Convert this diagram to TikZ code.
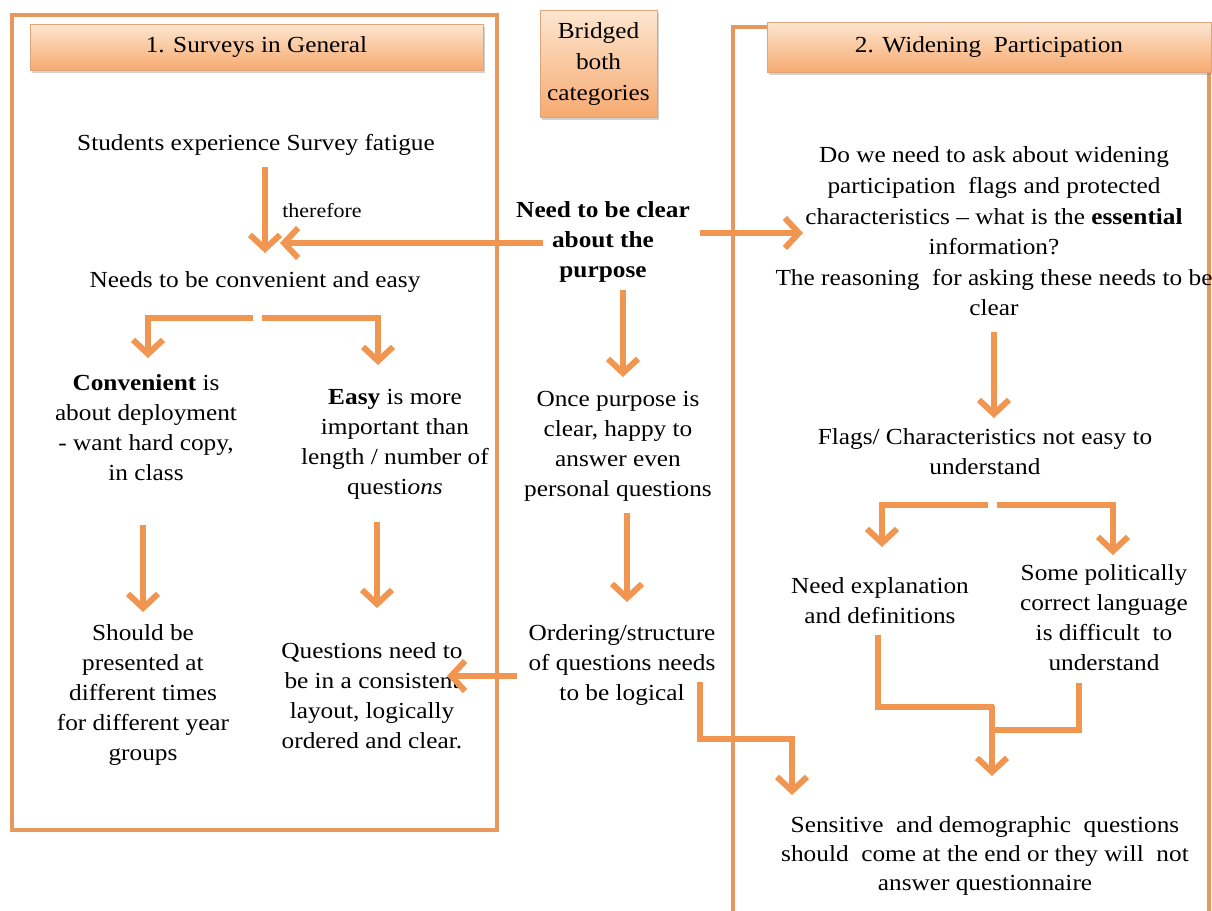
\documentclass[tikz,border=0pt]{standalone}
\usepackage{fontspec}
\setmainfont{Liberation Serif}[FakeStretch=1.1]
\usetikzlibrary{arrows.meta,shadows,calc}
\definecolor{arr}{RGB}{240,150,80}
\definecolor{boxc}{RGB}{230,152,95}
\definecolor{htop}{RGB}{253,230,208}
\definecolor{hbot}{RGB}{246,170,112}
\definecolor{hline}{RGB}{222,165,122}
\tikzset{
  txt/.style={align=center, font=\fontsize{11.5}{15}\selectfont, inner sep=0pt},
  boldtxt/.style={align=center, font=\fontsize{11.5}{15}\selectfont\bfseries, inner sep=0pt},
  smalltxt/.style={align=center, font=\fontsize{10}{12}\selectfont, inner sep=0pt},
  hdr/.style={draw=hline, line width=0.5pt, top color=htop, bottom color=hbot,
    drop shadow={shadow xshift=1pt,shadow yshift=-1.5pt,opacity=0.35},
    align=center, font=\fontsize{11.5}{15.5}\selectfont, inner sep=0pt},
  frame/.style={draw=boxc, line width=2pt},
  flow/.style={draw=arr, line width=3pt, -{Straight Barb[length=7pt,width=15pt]}},
  bar/.style={draw=arr, line width=3pt},
}
\begin{document}
\begin{tikzpicture}[x=0.5pt,y=-0.5pt]
\useasboundingbox (0,0) rectangle (1212,911);
\fill[white] (0,0) rectangle (1212,911);

% frames
\draw[frame] (12,15) rectangle (497,830);
\draw[frame] (1209,915) -- (1209,27) -- (733,27) -- (733,915);

% headers
\node[hdr, minimum width=226.5pt, minimum height=23pt] (h1) at (256.5,47) {1. Surveys in General};
\node[hdr, minimum width=58.5pt, minimum height=53.5pt] (br) at (598.5,63.5) {Bridged\\both\\categories};
\node[hdr, minimum width=222pt, minimum height=25pt] (h2) at (989,47) {2. Widening\ \ Participation};

% left column
\node[txt] (fat) at (256,145) {Students experience Survey fatigue};
\node[smalltxt] (ther) at (322,211) {therefore};
\node[txt] (needs) at (255,282) {Needs to be convenient and easy};
\node[txt] (conv) at (146,428) {\textbf{Convenient} is\\about deployment\\- want hard copy,\\in class};
\node[txt] (easy) at (395,444) {\textbf{Easy} is more\\important than\\length / number of\\questi\textit{ons}};
\node[txt] (should) at (143,695) {Should be\\presented at\\different times\\for different year\\groups};
\node[txt] (quest) at (372,696) {Questions need to\\be in a consistent\\layout, logically\\ordered and clear.};

% middle column
\node[boldtxt] (clear) at (603,242) {Need to be clear\\about the\\purpose};
\node[txt] (once) at (618,446) {Once purpose is\\clear, happy to\\answer even\\personal questions};
\node[txt] (order) at (622,665) {Ordering/structure\\of questions needs\\to be logical};

% right column
\node[txt, font=\fontsize{11.5}{15.3}\selectfont] (dowe) at (994,231.5) {Do we need to ask about widening\\participation\ \ flags and protected\\characteristics -- what is the \textbf{essential}\\information?\\The reasoning\ \ for asking these needs to be\\clear};
\node[txt] (flags) at (985,452) {Flags/ Characteristics not easy to\\understand};
\node[txt] (expl) at (880,601) {Need explanation\\and definitions};
\node[txt] (polit) at (1104,618) {Some politically\\correct language\\is difficult\ \ to\\understand};
\node[txt, font=\fontsize{11.5}{14.5}\selectfont] (sens) at (985,856) {Sensitive\ \ and demographic\ \ questions\\should\ \ come at the end or they will\ \ not\\answer questionnaire};

% coordinates for connector ends
\coordinate (fatS) at (265,167);
\coordinate (needsN) at (265,253);
\coordinate (clearW) at (543,243);
\coordinate (needsE) at (280,243);
\coordinate (clearE) at (700,233);
\coordinate (doweW) at (803,233);
\coordinate (needsS1) at (253,318);
\coordinate (needsS2) at (262,318);
\coordinate (convN) at (148,358);
\coordinate (easyN) at (378,365);
\coordinate (convS) at (143,525);
\coordinate (shouldN) at (143,612);
\coordinate (easyS) at (377,522);
\coordinate (questN) at (377,608);
\coordinate (orderW) at (517,676);
\coordinate (questE) at (447,676);
\coordinate (clearS) at (623,290);
\coordinate (onceN) at (623,377);
\coordinate (onceS) at (627,513);
\coordinate (orderN) at (627,602);
\coordinate (orderE) at (700,682);
\coordinate (sensN1) at (792,795);
\coordinate (doweS) at (994,332);
\coordinate (flagsN) at (994,418);
\coordinate (flagsS1) at (988,505);
\coordinate (flagsS2) at (997,505);
\coordinate (explN) at (882,547);
\coordinate (politN) at (1113,555);
\coordinate (explS) at (878,635);
\coordinate (politS) at (1079,683);
\coordinate (sensN2) at (992,776);

% connectors
\draw[flow] (fatS) -- (needsN);
\draw[flow] (clearW) -- (needsE);
\draw[flow] (clearE) -- (doweW);
\draw[flow] (needsS1) -| (convN);
\draw[flow] (needsS2) -| (easyN);
\draw[flow] (convS) -- (shouldN);
\draw[flow] (easyS) -- (questN);
\draw[flow] (orderW) -- (questE);
\draw[flow] (clearS) -- (onceN);
\draw[flow] (onceS) -- (orderN);
\draw[flow] (orderE) -- (700,739) -| (sensN1);
\draw[flow] (doweS) -- (flagsN);
\draw[flow] (flagsS1) -| (explN);
\draw[flow] (flagsS2) -| (politN);
\draw[bar] (explS) |- (993.5,707);
\draw[bar] (politS) |- (990.5,730);
\draw[flow] (992,705.5) -- (sensN2);
\end{tikzpicture}
\end{document}
